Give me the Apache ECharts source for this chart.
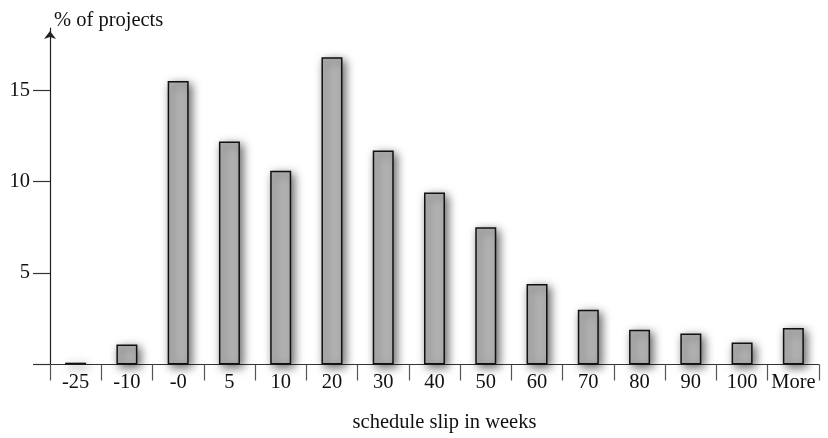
<!DOCTYPE html>
<html>
<head>
<meta charset="utf-8">
<script src="https://cdn.jsdelivr.net/npm/echarts@6/dist/echarts.min.js"></script>
<style>html,body{margin:0;padding:0;background:#fff;}#c{width:828px;height:438px;}</style>
</head>
<body>
<div id="c"></div>
<script>
var categories = ['-25', '-10', '-0', '5', '10', '20', '30', '40', '50', '60', '70', '80', '90', '100', 'More'];
var percentProjects = [0.1, 1.1, 15.5, 12.2, 10.6, 16.8, 11.7, 9.4, 7.5, 4.4, 3.0, 1.9, 1.7, 1.2, 2.0];
var yTickValues = [0, 5, 10, 15];
var yLabelValues = [5, 10, 15];
var yAxisName = '% of projects';
var xAxisName = 'schedule slip in weeks';

var FONT = 'Liberation Serif';
var FS = 20.5;
var chart = echarts.init(document.getElementById('c'), null, {renderer: 'canvas'});
chart.setOption({
  backgroundColor: '#ffffff',
  animation: false,
  grid: {left: 50, right: 9, top: 28, bottom: 69.5, containLabel: false},
  xAxis: {
    type: 'category',
    data: categories,
    boundaryGap: true,
    name: xAxisName,
    nameLocation: 'middle',
    nameGap: 47.5,
    nameTextStyle: {fontFamily: FONT, fontSize: FS, color: '#111', padding: [0, 0, 0, 20]},
    axisLine: {show: true, lineStyle: {color: '#333', width: 1.2}},
    axisTick: {show: true, length: 16, inside: false, lineStyle: {color: '#555', width: 1.2}},
    axisLabel: {interval: 0, margin: 7.5, fontFamily: FONT, fontSize: FS, color: '#111'},
    splitLine: {show: false}
  },
  yAxis: {
    type: 'value',
    min: 0,
    max: 18.4,
    interval: 5,
    name: yAxisName,
    nameLocation: 'end',
    nameGap: -3.5,
    nameTextStyle: {fontFamily: FONT, fontSize: FS, color: '#111', align: 'left', verticalAlign: 'bottom', padding: [0, 0, 0, 4]},
    axisLine: {show: true, symbol: ['none', 'arrow'], symbolSize: [9, 8], symbolOffset: [0, -3], lineStyle: {color: '#222', width: 1.2}},
    axisTick: {show: true, length: 17, customValues: yTickValues, lineStyle: {color: '#333', width: 1.2}},
    axisLabel: {customValues: yLabelValues, margin: 20, fontFamily: FONT, fontSize: FS, color: '#111'},
    splitLine: {show: false}
  },
  series: [{
    type: 'bar',
    data: percentProjects,
    barWidth: 21,
    itemStyle: {
      color: '#b3b3b3',
      borderColor: '#111',
      borderWidth: 1.5,
      shadowBlur: 10,
      shadowColor: 'rgba(0,0,0,0.6)',
      shadowOffsetX: 3,
      shadowOffsetY: 3
    }
  }]
});
</script>
</body>
</html>
